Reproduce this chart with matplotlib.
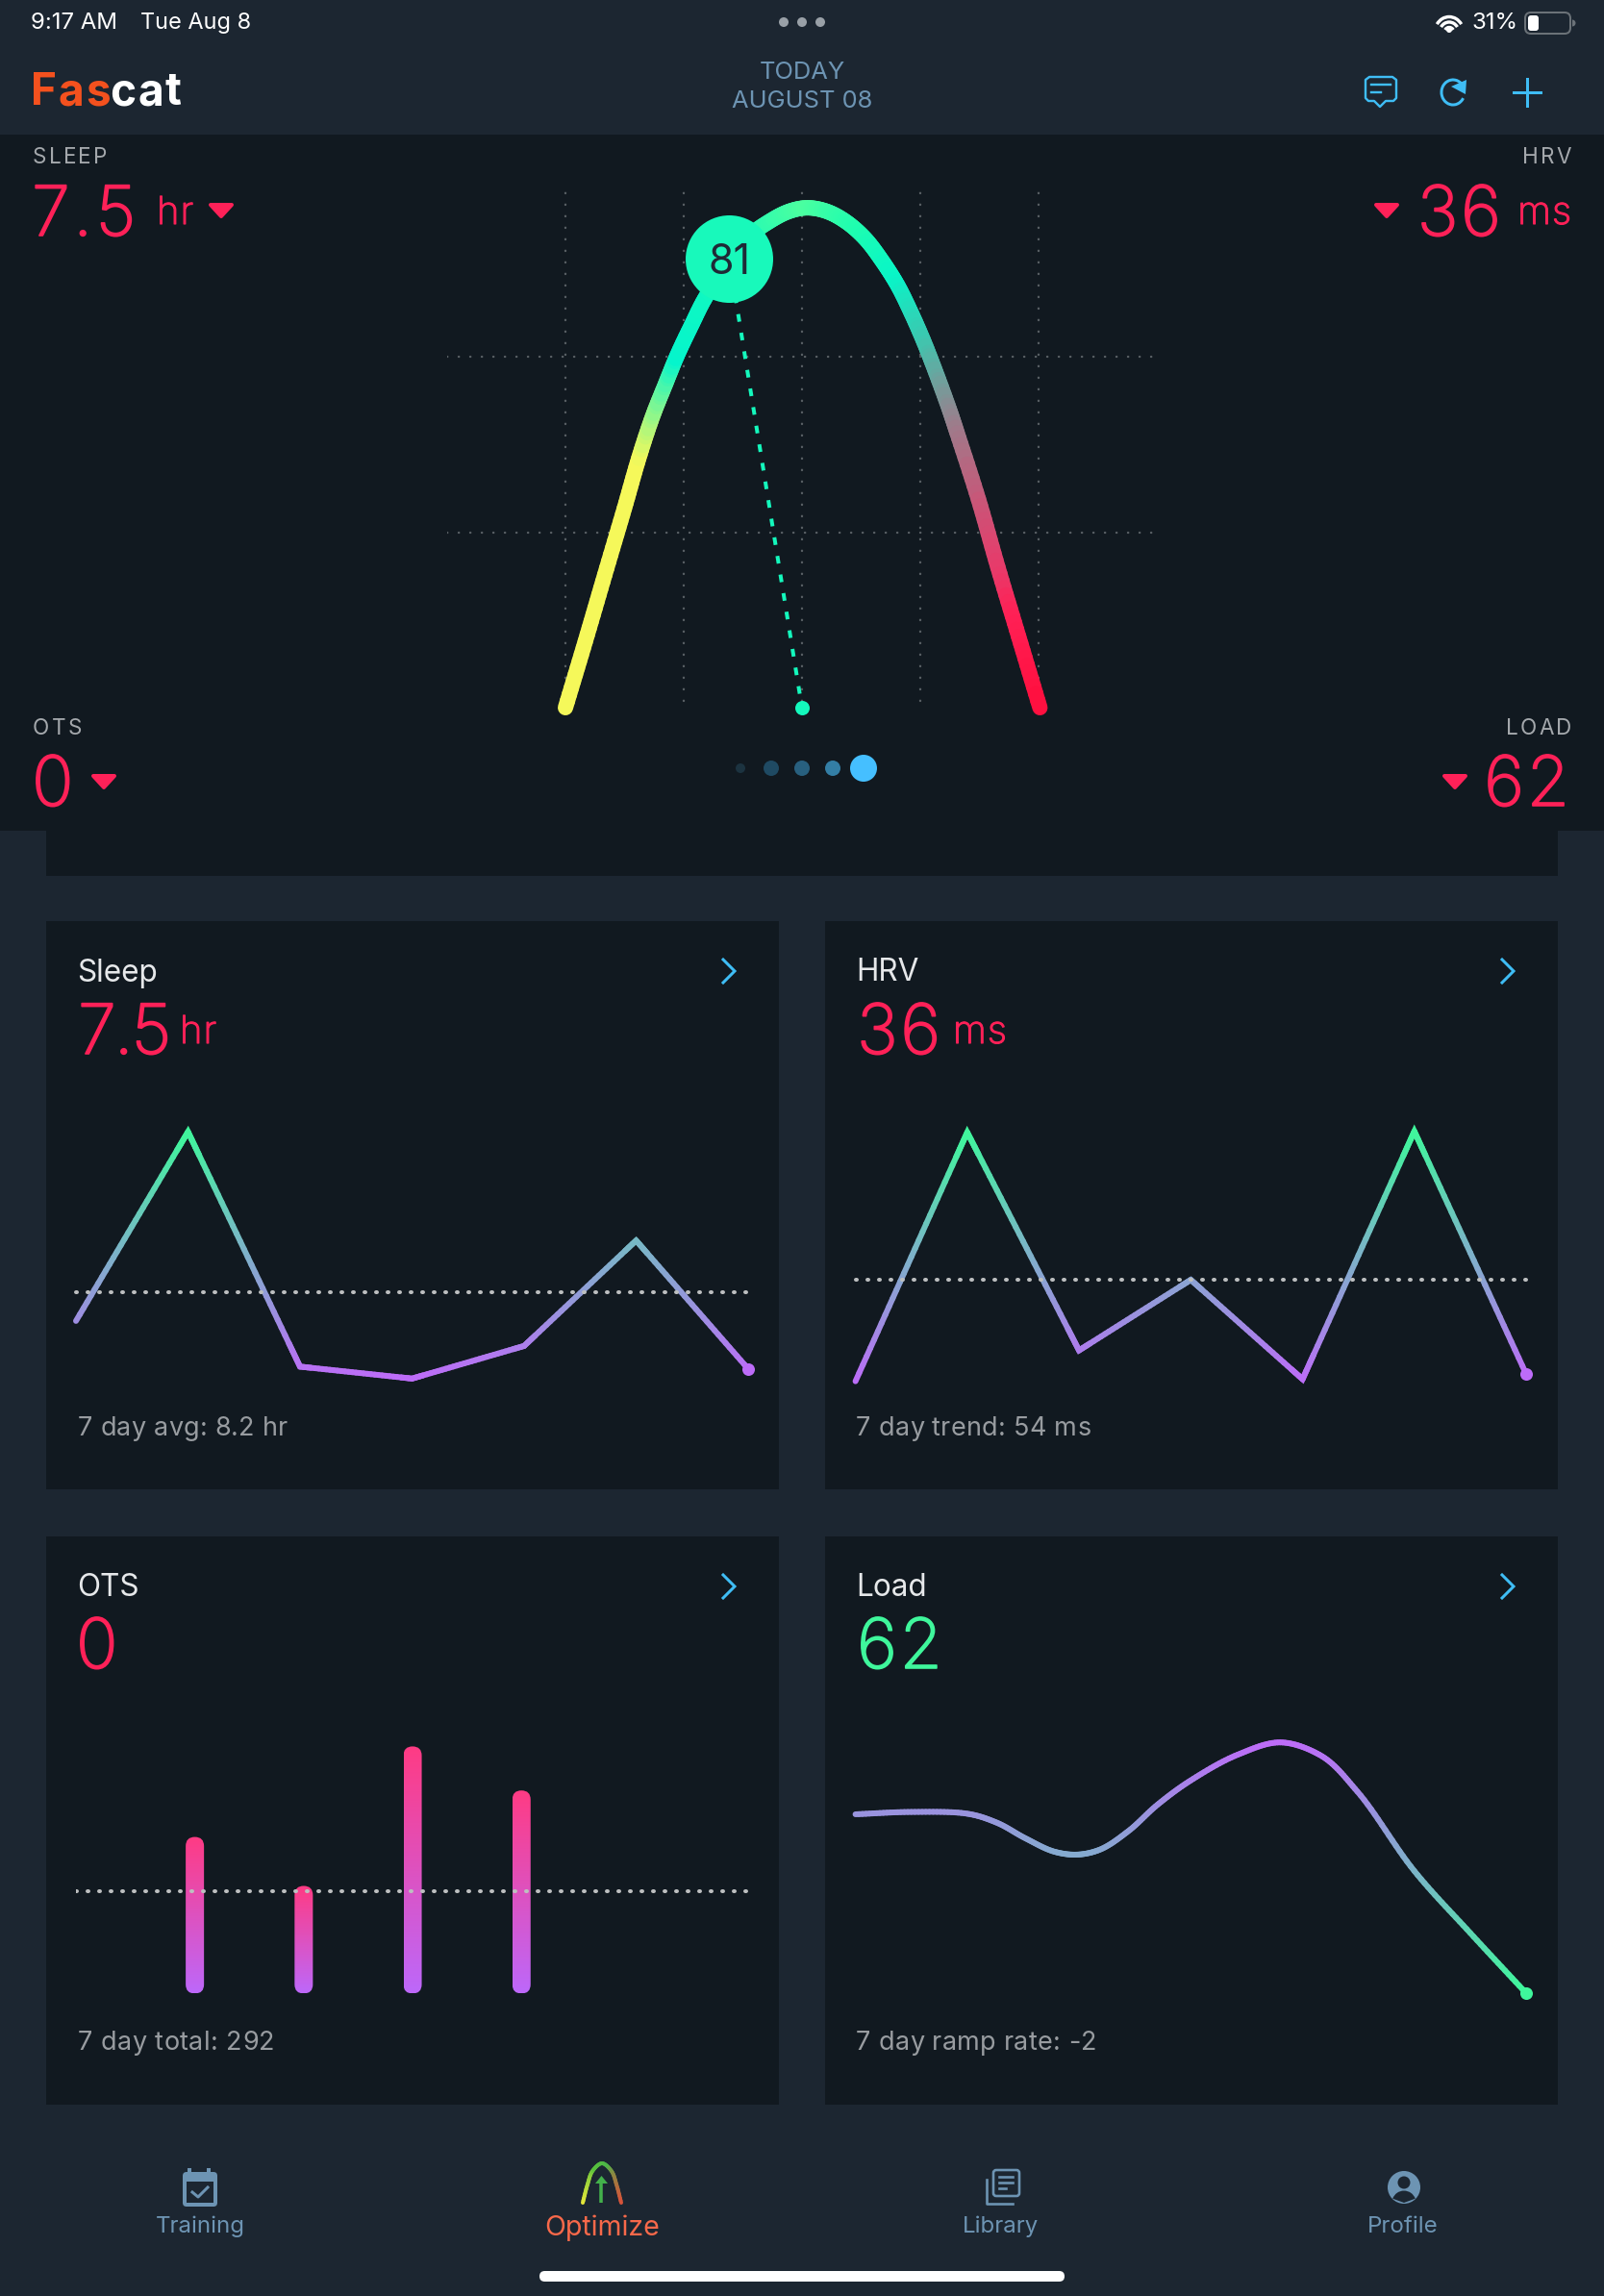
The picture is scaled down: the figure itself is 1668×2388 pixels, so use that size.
import numpy as np
import matplotlib
matplotlib.use("Agg")
import matplotlib.pyplot as plt
import matplotlib.patheffects as pe
from matplotlib.collections import LineCollection
from matplotlib.colors import LinearSegmentedColormap, Normalize
from matplotlib.patches import Rectangle, FancyBboxPatch, Circle, Polygon, Arc, Wedge

plt.rcParams["font.family"] = ["Inter", "DejaVu Sans"]

W, H = 1668, 2388

# chart data
days = [0, 1, 2, 3, 4, 5, 6]
sleep_hours = [7.94, 9.68, 7.52, 7.41, 7.71, 8.68, 7.5]
sleep_avg = 8.2
hrv_ms = [34.6, 82.2, 40.5, 54, 35, 82.4, 36]
hrv_trend = 54
ots_scores = [0, 64, 44, 101, 83, 0, 0]
ots_avg = 41.7
load_days = [0, 0.5, 1, 1.26, 1.52, 1.78, 1.98, 2.18, 2.44, 2.7, 3, 3.42, 3.8, 4.15, 4.49, 5, 5.5, 6]
load_vals = [65.06, 65.1, 65.07, 64.92, 64.65, 64.42, 64.37, 64.45, 64.77, 65.22, 65.64, 66.08,
             66.29, 66.08, 65.45, 64.09, 63.03, 62]

# readiness arc
arc_x = [0, 4.2, 8.3, 12.47, 15.5, 18.4, 21.1, 23.6, 26.6, 29.7, 35, 39, 43.1, 47.2, 51.1, 55.3,
         59.4, 63.4, 66.8, 70.2, 72.9, 75.6, 78.3, 81.1, 82.8, 87.3, 91.4, 95.8, 100.3]
arc_y = [0, 12.6, 25.2, 37.9, 47.4, 55.3, 61.4, 66.9, 72.6, 78.1, 84.9, 89.7, 92.4, 94.3, 95,
         94.3, 92.3, 89.1, 85.1, 80.3, 75.4, 69.9, 63.7, 56.8, 52.2, 39.6, 26.7, 13.5, 0]
score_label = "81"
score_x, score_y = 34.6, 85.4
base_x, base_y = 50, 0

BG = "#1c2631"
PANEL = "#111920"
RED = "#ff2158"
GREEN = "#3ff79c"
PURPLE = "#bd6cf8"
BLUE = "#3fbdf5"
TAB = "#6d94b3"
GRAY = "#a4a8ac"
SOFT = "#989ca0"
TITLE = "#e6e8ea"
DOT = "#bdbfc0"

purple_green = LinearSegmentedColormap.from_list("pg", [PURPLE, GREEN])
green_purple = LinearSegmentedColormap.from_list("gp", [GREEN, PURPLE])
pink_purple = LinearSegmentedColormap.from_list("pp", ["#ff3b84", "#bd68fa"])
arc_cmap = LinearSegmentedColormap.from_list("arc", [
    (0.0, "#f5f85a"), (0.155, "#f5f85a"), (0.235, "#05f5cc"), (0.34, "#14f9bd"),
    (0.51, "#4cffa0"), (0.62, "#1ffdb0"), (0.70, "#08f6c8"), (0.76, "#3cc8b0"),
    (0.83, "#a07a8a"), (0.92, "#e83a6a"), (0.95, "#ff2055"), (1.0, "#ff1040")])

fig = plt.figure(figsize=(W / 72, H / 72), dpi=72, facecolor=BG)
renderer = fig.canvas.get_renderer()

bg = fig.add_axes([0, 0, 1, 1])
bg.set_xlim(0, W)
bg.set_ylim(H, 0)
bg.axis("off")


def chart_ax(left, top, right, bottom, xlim, ylim):
    ax = fig.add_axes([left / W, 1 - bottom / H, (right - left) / W, (bottom - top) / H])
    ax.set_xlim(*xlim)
    ax.set_ylim(*ylim)
    ax.axis("off")
    ax.patch.set_alpha(0)
    return ax


def smooth(x, y, n=16):
    # hermite spline over chord length, just to draw the read points as a curve
    p = np.column_stack([x, y]).astype(float)
    t = np.r_[0, np.cumsum(np.hypot(*np.diff(p, axis=0).T) ** 0.5)]
    m = np.gradient(p, t, axis=0)
    out = []
    for i in range(len(p) - 1):
        h = t[i + 1] - t[i]
        s = np.linspace(0, 1, n, endpoint=False)[:, None]
        out.append((2 * s ** 3 - 3 * s ** 2 + 1) * p[i] + (s ** 3 - 2 * s ** 2 + s) * h * m[i]
                   + (-2 * s ** 3 + 3 * s ** 2) * p[i + 1] + (s ** 3 - s ** 2) * h * m[i + 1])
    out.append(p[-1][None, :])
    out = np.vstack(out)
    return out[:, 0], out[:, 1]


def densify(x, y, n=30):
    t = np.arange(len(x))
    tt = np.linspace(0, len(x) - 1, (len(x) - 1) * n + 1)
    return np.interp(tt, t, x), np.interp(tt, t, y)


def grad_line(ax, x, y, c, cmap, lw, norm=None):
    pts = np.column_stack([x, y]).reshape(-1, 1, 2)
    segs = np.concatenate([pts[:-1], pts[1:]], axis=1)
    lc = LineCollection(segs, cmap=cmap, norm=norm or Normalize(min(c), max(c)),
                        linewidth=lw, capstyle="round", joinstyle="round", clip_on=False)
    lc.set_array((np.asarray(c)[:-1] + np.asarray(c)[1:]) / 2)
    ax.add_collection(lc)
    return lc


def poly_line(ax, x, y, values, cmap, lw, n=30):
    # straight segments with sharp corners like the app draws them
    dx, dy = densify(x, y, n)
    norm = Normalize(min(values), max(values))
    for k in range(1, len(x) - 1):
        i = k * n
        ax.plot(dx[i - 3:i + 4], dy[i - 3:i + 4], color=cmap(norm(values[k])), lw=lw,
                solid_joinstyle="miter", solid_capstyle="butt", clip_on=False)
    grad_line(ax, dx, dy, dy, cmap, lw, norm)


def dotted(ax, x, y, color=DOT, lw=4, gap=12, dash=0.25, **kw):
    ax.plot(x, y, color=color, lw=lw, linestyle=(0, (dash, gap / lw - dash)),
            dash_capstyle="round", **kw)


def label(x, y, s, size, color, ha="left", va="center", **kw):
    return bg.text(x, y, s, fontsize=size, color=color, ha=ha, va=va, **kw)


def spaced(x, y, s, size, color, extra, ha="left", va="baseline", thick=0, **kw):
    # letter spacing, matplotlib has no option for it
    probes = [bg.text(0, 0, ch, fontsize=size, **kw) for ch in s]
    widths = []
    for ch, pr in zip(s, probes):
        w, _, _ = renderer.get_text_width_height_descent(ch, pr.get_fontproperties(), False)
        widths.append(w + extra)
        pr.remove()
    total = sum(widths) - extra
    pos = x if ha == "left" else x - total
    for ch, w in zip(s, widths):
        t = bg.text(pos, y, ch, fontsize=size, color=color, ha="left", va=va, **kw)
        if thick:
            t.set_path_effects([pe.withStroke(linewidth=thick, foreground=color)])
        pos += w


def big(x, y, s, color=RED, ha="left", extra=2.5):
    spaced(x, y, s, 72, color, extra, ha=ha, thick=1.6, fontweight="light")


def unit(x, y, s, ha="left"):
    spaced(x, y, s, 40, RED, 1.0, ha=ha, thick=1.1, fontweight="light")


def tri(cx, cy, w=22, h=12, color=RED):
    bg.add_patch(Polygon([(cx - w / 2, cy - h / 2), (cx + w / 2, cy - h / 2), (cx, cy + h / 2)],
                         closed=True, fc=color, ec=color, lw=4, joinstyle="round"))


def chevron(cx, cy):
    bg.plot([cx - 6, cx + 6, cx - 6], [cy - 12, cy, cy + 12], color=BLUE, lw=3,
            solid_joinstyle="miter")


# panels
bg.add_patch(Rectangle((0, 140), W, 724, fc=PANEL, ec="none"))
bg.add_patch(Rectangle((48, 864), 1572, 47, fc=PANEL, ec="none"))
for cx, cy, cw, ch in [(48, 958, 762, 591), (858, 958, 762, 591),
                       (48, 1598, 762, 591), (858, 1598, 762, 591)]:
    bg.add_patch(Rectangle((cx, cy), cw, ch, fc=PANEL, ec="none"))

# status bar
label(32, 24, "9:17 AM", 24, "white")
label(146, 24, "Tue Aug 8", 23.5, "white")
for dx in [-19, 0, 19]:
    bg.add_patch(Circle((834 + dx, 23), 5, fc="#99a0a7", ec="none"))
label(1579, 24, "31%", 24, "white", ha="right")
bg.add_patch(FancyBboxPatch((1586, 13), 47, 22, boxstyle="round,pad=0,rounding_size=6",
                            fc="none", ec="#6b7278", lw=2))
bg.add_patch(FancyBboxPatch((1589, 16), 11, 16, boxstyle="round,pad=0,rounding_size=3",
                            fc="white", ec="none"))
bg.add_patch(Wedge((1635, 24), 3.5, -90, 90, fc="#6b7278", ec="none"))
for r in [30, 20, 10]:
    bg.add_patch(Arc((1507, 34), r, r * 1.1, theta1=215, theta2=325, color="white", lw=3.4))
bg.add_patch(Circle((1507, 31), 3, fc="white", ec="none"))

# header
spaced(32, 109, "Fas", 46, "#f4511e", 2, fontweight="bold")
spaced(114, 109, "cat", 46, "white", 2, fontweight="bold")
label(834, 76, "TODAY", 25.5, TAB, ha="center")
label(834, 106, "AUGUST 08", 25.5, TAB, ha="center")
# comment icon
bg.add_patch(Polygon([(1420, 83), (1424, 80), (1448, 80), (1452, 83), (1452, 102), (1449, 105),
                      (1441, 105), (1435, 111), (1429, 105), (1423, 105), (1420, 102)],
                     closed=True, fc="none", ec=BLUE, lw=2.4, joinstyle="round"))
bg.plot([1426, 1446], [88, 88], color=BLUE, lw=2.4)
bg.plot([1426, 1436], [96, 96], color=BLUE, lw=2.4)
# refresh icon
bg.add_patch(Arc((1511, 96), 24, 26, theta1=-330, theta2=-25, color=BLUE, lw=3))
bg.add_patch(Polygon([(1509, 90), (1525, 83), (1524, 98)], closed=True, fc=BLUE, ec="none"))
# plus icon
bg.plot([1588, 1588], [82, 110], color=BLUE, lw=3)
bg.plot([1574, 1602], [96, 96], color=BLUE, lw=3)

# hero corners
spaced(34, 170, "SLEEP", 22.5, GRAY, 2.2)
big(33, 245, "7.5", extra=3.5)
unit(163, 233, "hr")
tri(230, 219)
spaced(1634, 170, "HRV", 22.5, GRAY, 2.2, ha="right")
big(1561, 245, "36", ha="right")
unit(1634, 233, "ms", ha="right")
tri(1442, 219)
spaced(34, 764, "OTS", 22.5, GRAY, 2.2)
big(33, 838, "0")
tri(108, 813)
spaced(1634, 764, "LOAD", 22.5, GRAY, 2.2, ha="right")
big(1632, 838, "62", ha="right")
tri(1513, 813)

# readiness arc
ax = chart_ax(465, 180, 1200, 745, (-25, 124.4), (-1.64, 101.6))
for gx in [0, 25, 50, 75, 100]:
    dotted(ax, [gx, gx], [1.3, 100], color="#596065", lw=2.4, dash=0.1)
for gy in [33.33, 66.67]:
    dotted(ax, [-25, 124.4], [gy, gy], color="#596065", lw=2.4, dash=0.1)
sx, sy = smooth(arc_x, arc_y, n=10)
grad_line(ax, sx, sy, sx, arc_cmap, 16, Normalize(0, 100))
ax.plot([score_x, base_x], [score_y, base_y], color="#14f9bd", lw=4, linestyle=(0, (2, 2.9)))
ax.scatter([base_x], [base_y], s=225, color="#14f9bd", zorder=5, linewidths=0, clip_on=False)
ax.scatter([score_x], [score_y], s=91 ** 2, color="#18f9bb", zorder=6, linewidths=0)
ax.text(score_x, score_y, score_label, fontsize=43, color="#1f2a36", ha="center",
        va="center_baseline", zorder=7)

# page dots
for px, r, col in [(770, 5, "#1c3340"), (802, 8, "#1f4a63"), (834, 8, "#28607f"),
                   (866, 8, "#337ea5"), (898, 14, "#45bfff")]:
    bg.add_patch(Circle((px, 799), r, fc=col, ec="none"))

# Sleep card
label(80, 1012, "Sleep", 31.5, TITLE)
big(81, 1096, "7.5", extra=-2)
unit(187, 1085, "hr")
chevron(758, 1010)
spaced(81, 1493, "7 day avg: 8.2 hr", 27, SOFT, 0.25)
ax = chart_ax(79, 1150, 778, 1470, (0, 6), (7.09, 9.92))
poly_line(ax, days, sleep_hours, sleep_hours, purple_green, 6)
dotted(ax, [0, 6.02], [sleep_avg, sleep_avg], clip_on=False)
ax.scatter(days[-1], sleep_hours[-1], s=170, color=PURPLE, linewidths=0, clip_on=False, zorder=5)

# HRV card
label(890, 1012, "HRV", 31.5, TITLE)
big(891, 1096, "36")
unit(991, 1085, "ms")
chevron(1568, 1010)
spaced(890, 1493, "7 day trend: 54 ms", 27, SOFT, 0.3)
ax = chart_ax(889.6, 1150, 1587, 1470, (0, 6), (28.46, 87.3))
poly_line(ax, days, hrv_ms, hrv_ms, purple_green, 6)
dotted(ax, [0, 6.02], [hrv_trend, hrv_trend], clip_on=False)
ax.scatter(days[-1], hrv_ms[-1], s=170, color=PURPLE, linewidths=0, clip_on=False, zorder=5)

# OTS card
label(80, 1652, "OTS", 31.5, TITLE)
big(79, 1735, "0")
chevron(758, 1650)
spaced(81, 2132, "7 day total: 292", 27, SOFT, 0.45)
bar_w = 0.168
y_per_x = 113.2 / 2.544
ax = chart_ax(79, 1780, 780, 2090, (-0.092, 6.1), (-6.5, 115.3))
for d, v in zip(days, ots_scores):
    if v <= 0:
        continue
    bar = FancyBboxPatch((d - bar_w / 2, 0), bar_w, v,
                         boxstyle=f"round,pad=0,rounding_size={bar_w / 2}",
                         mutation_aspect=y_per_x, fc="none", ec="none", transform=ax.transData)
    ax.add_patch(bar)
    im = ax.imshow(np.linspace(0, 1, 128)[:, None], extent=(d - bar_w / 2, d + bar_w / 2, 0, v),
                   cmap=pink_purple, aspect="auto", origin="upper", zorder=2)
    im.set_clip_path(bar)
ax.set_xlim(-0.092, 6.1)
ax.set_ylim(-6.5, 115.3)
dotted(ax, [-0.092, 6.1], [ots_avg, ots_avg], zorder=3)

# Load card
label(890, 1652, "Load", 31.5, TITLE)
big(891, 1735, "62", color=GREEN)
chevron(1568, 1650)
spaced(890, 2132, "7 day ramp rate: -2", 27, SOFT, 0.3)
ax = chart_ax(889.6, 1780, 1587, 2090, (0, 6), (61.72, 66.82))
sx, sy = smooth(load_days, load_vals)
grad_line(ax, sx, sy, sy, green_purple, 6)
ax.scatter(load_days[-1], load_vals[-1], s=170, color=GREEN, linewidths=0, clip_on=False, zorder=5)

# tab bar
label(208, 2316, "Training", 24, TAB, ha="center")
label(626, 2317, "Optimize", 28.5, "#f9694a", ha="center")
label(1041, 2316, "Library", 24, TAB, ha="center")
label(1459, 2316, "Profile", 24, TAB, ha="center")
# training icon
bg.add_patch(FancyBboxPatch((190, 2259), 36, 36, boxstyle="round,pad=0,rounding_size=4",
                            fc=TAB, ec="none"))
bg.add_patch(Rectangle((194, 2269), 28, 22, fc=BG, ec="none"))
bg.plot([197, 197], [2255, 2262], color=TAB, lw=4, solid_capstyle="butt")
bg.plot([217, 217], [2255, 2262], color=TAB, lw=4, solid_capstyle="butt")
bg.plot([200, 206, 216], [2280, 2285, 2275], color=TAB, lw=3)
# optimize icon
ox = np.array([0, 0.12, 0.25, 0.5, 0.75, 0.88, 1.0])
oy = np.array([0, 0.45, 0.8, 1.0, 0.8, 0.45, 0])
ix, iy = smooth(ox, oy, n=8)
oax = chart_ax(606, 2250, 646, 2291, (0, 1), (0, 1))
grad_line(oax, ix, iy, ix, LinearSegmentedColormap.from_list(
    "o", [(0, "#e8e83a"), (0.3, "#59c23c"), (0.65, "#4cb648"), (1, "#d8533a")]), 4)
bg.plot([625.5, 625.5], [2291, 2268], color="#43b14b", lw=3.5, solid_capstyle="butt")
bg.add_patch(Polygon([(619, 2271), (632, 2271), (625.5, 2263)], closed=True, fc="#43b14b", ec="none"))
# library icon
bg.add_patch(FancyBboxPatch((1033, 2257), 27, 27, boxstyle="round,pad=0,rounding_size=3",
                            fc="none", ec=TAB, lw=2.6))
bg.plot([1026, 1026, 1053], [2267, 2292, 2292], color=TAB, lw=2.6)
bg.plot([1039, 1053], [2264, 2264], color=TAB, lw=2.6)
bg.plot([1039, 1053], [2270, 2270], color=TAB, lw=2.6)
bg.plot([1039, 1046], [2276, 2276], color=TAB, lw=2.6)
# profile icon
bg.add_patch(Circle((1460, 2275), 17, fc=TAB, ec="none"))
bg.add_patch(Circle((1460, 2270), 6.5, fc=BG, ec="none"))
bg.add_patch(Wedge((1460, 2291), 12.5, 200, 340, fc=BG, ec="none"))

# home indicator
bg.add_patch(FancyBboxPatch((561, 2362), 546, 11, boxstyle="round,pad=0,rounding_size=5.5",
                            fc="white", ec="none"))

fig.savefig("out.png", dpi=72, facecolor=BG)
